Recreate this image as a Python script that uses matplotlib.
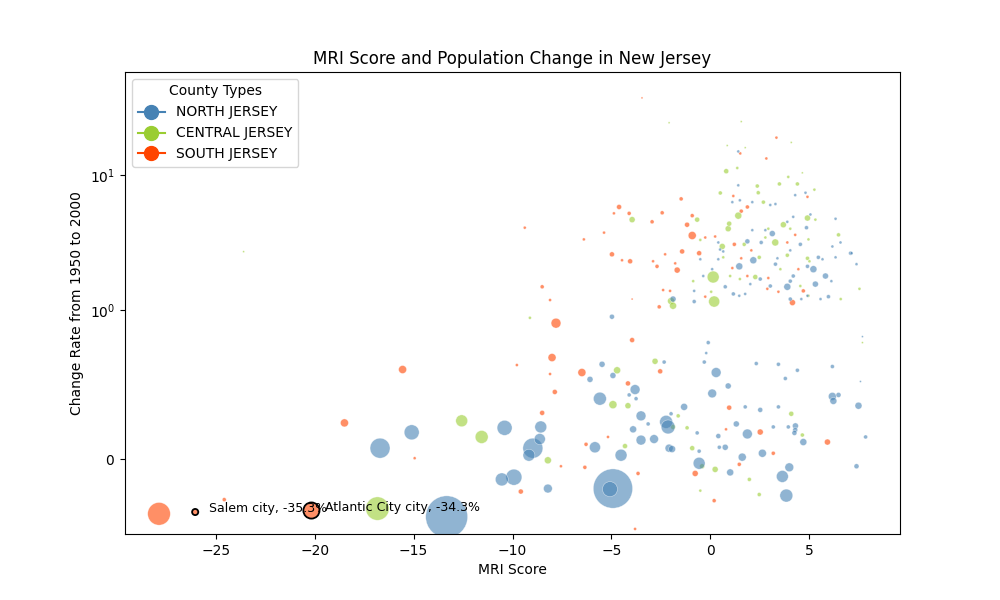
import numpy as np
import matplotlib.pyplot as plt
from matplotlib.lines import Line2D

# MRI score, change rate 1950->2000 (fraction), population 2000 (thousands)
north_mri = [-13.33, -4.92, -5.07, -16.7, -15.1, -10.4, -9.93, -10.54, -8.57, -8.97,
             -9.17, -8.62, -8.21, -6.08, -5.58, -5.47, -4.97, -4.92, -3.8, -3.75,
             -4.1, -3.5, -3.9, -3.5, -2.84, -3.14, -4.51, -5.83, -2.23, -2.13,
             -2.08, -1.93, -2.33, -1.32, -1.98, -0.66, -0.56, -0.56, 0.41, 0.76,
             0.46, 1.01, 0.1, 0.3, -0.1, -0.3, -0.2, 0.91, 1.32, 1.88,
             1.62, 1.77, 2.53, 2.33, 2.64, 3.19, 3.65, 4.0, 3.85, 4.31,
             4.3, 4.26, 4.71, 3.95, 3.45, 3.8, 3.45, 4.41, 6.18, 6.18,
             6.23, 6.49, 7.5, 7.86, 7.4, 7.6, 7.7, 1.47, 2.18, 1.88,
             3.14, 5.22, 5.83, 5.32, 3.9, 7.1, 5.98, 2.53, 1.42, -0.81,
             -1.88, 1.5, 3.04, 4.3, 5.07, 2.79, 4.56, -0.5, 0.5, 3.3,
             4.05, 1.77, 0.1, 7.4, 6.34, 5.58,
             1.42, 1.12, 2.13, 3.3, 4.82, 4.2, 4.87, 3.9, 2.58, 0.41,
             0.66, 2.13, 3.4, 4.05, 4.2, 4.05, 4.92, 5.68, 6.18, 6.59,
             7.15, 6.34, 4.92, 3.04, 0.76, 1.17, 1.47, 2.03, 0.41, -0.35,
             -0.81, 4.61, 6.13, 5.47]
north_chg = [-0.385, -0.196, -0.2, 0.074, 0.18, 0.21, -0.12, -0.135, 0.216, 0.074,
             0.027, 0.135, -0.196, 0.534, 0.405, 0.635, 0.953, 0.56, 0.466, 0.405,
             0.43, 0.29, 0.2, 0.128, 0.135, 0.236, 0.027, 0.08, 0.25, 0.216,
             0.074, 0.068, 0.65, 0.35, 0.304, 0.176, 0.054, -0.027, 0.155, 0.08,
             0.08, -0.088, 0.44, 0.58, 0.78, 0.65, 0.71, 0.49, 0.236, 0.169,
             0.014, 0.35, 0.33, 0.64, 0.04, 0.216, -0.115, -0.054, -0.243, 0.223,
             0.196, 0.176, 0.115, 0.216, 0.35, 0.54, 0.635, 0.595, 0.62, 0.42,
             0.39, 0.43, 0.358, 0.149, -0.047, 0.52, 0.82, 2.1, 2.33, 3.22,
             3.68, 2.0, 1.78, 1.55, 1.48, 2.63, 1.25, 1.69, 15.0, 1.15,
             1.2, 6.5, 6.0, 7.1, 5.1, 3.9, 3.06, 2.37, 2.8, 2.18,
             1.2, 1.31, 2.0, 2.18, 2.45, 1.2,
             8.4, 6.3, 6.3, 6.1, 7.4, 4.9, 4.07, 4.5, 3.16, 3.16,
             2.71, 3.9, 2.41, 2.76, 1.78, 1.63, 2.1, 2.37, 2.95, 3.16,
             2.63, 4.74, 1.27, 1.5, 1.48, 1.31, 1.27, 1.55, 2.37, 1.78,
             1.38, 1.2, 1.63, 2.45]
north_pop = [273, 240, 35, 62, 35, 35, 40, 26, 22, 62,
             22, 19, 12, 5.6, 26, 5.6, 3.9, 5.6, 15, 2.5,
             2.5, 15, 7.6, 15, 12, 2.5, 22, 19, 26, 30,
             10, 7.6, 2.5, 7.6, 2.5, 2.5, 2.5, 22, 3.9, 5.6,
             2.5, 7.6, 12, 15, 2.5, 2.5, 1.4, 5.6, 5.6, 15,
             10, 2.5, 3.9, 2.5, 10, 2.5, 22, 12, 26, 5.6,
             3.9, 3.9, 7.6, 2.5, 2.5, 2.5, 2.5, 2.5, 2.5, 10,
             7.6, 3.9, 7.6, 2.5, 3.9, 0.6, 0.6, 7.6, 7.6, 3.9,
             5.6, 7.6, 5.6, 5.6, 7.6, 2.5, 2.5, 2.5, 1.4, 2.5,
             5.6, 1.4, 1.4, 1.4, 1.4, 1.4, 2.5, 1.4, 1.4, 2.5,
             2.5, 1.4, 1.4, 1.4, 1.4, 1.4,
             1.4, 1.4, 1.4, 1.4, 1.4, 1.4, 2.5, 1.4, 2.5, 1.4,
             1.4, 1.4, 1.4, 1.4, 2.5, 2.5, 2.5, 1.4, 1.4, 1.4,
             1.4, 1.4, 1.4, 2.5, 2.5, 2.5, 1.4, 1.4, 1.4, 1.4,
             1.4, 1.4, 1.4, 2.5]

central_mri = [-16.83, -12.57, -11.56, -8.21, -9.12, -4.71, -4.92, -4.16, -4.31, -2.79,
               -1.62, -1.17, -0.91, -1.88, 0.25, 1.98, 2.48, 4.1, 4.66, -0.41,
               0.2, 0.15, -3.95, -1.98, -1.88, 0.61, 0.81, 1.42, 0.91, 0.96,
               2.48, 3.29, 2.38, 2.43, 3.5, 4.41, 2.69, 3.7, 4.92, 3.9,
               4.92, 6.49, 7.55, 0.51, 1.37, 0.86, 4.1, -2.08, 1.57, -0.66,
               7.7, -23.6, -0.5, 2.28, 6.6, 1.5, -0.5,
               3.95, 5.27, 5.32, 4.05, 4.97, 5.02, 2.94, 2.79, 1.72, 0.66,
               1.01, 3.55, 4.56, 4.97, 1.77, 4.66, 0.05, -0.86]
central_chg = [-0.33, 0.257, 0.149, -0.007, 0.946, 0.595, 0.365, 0.358, 0.088, 0.655,
               0.29, 0.21, 0.074, 0.216, -0.068, -0.135, -0.236, 0.304, 0.162, -0.047,
               1.15, 1.75, 4.67, 1.16, 1.07, 2.95, 10.7, 5.0, 4.0, 4.36,
               2.45, 3.16, 8.3, 7.4, 8.6, 8.6, 6.3, 4.28, 4.8, 2.54,
               2.41, 3.6, 1.43, 7.37, 11.3, 16.6, 17.5, 24.5, 25.0, 4.67,
               0.78, 2.7, 3.3, 1.75, 1.2, 1.69, -0.21,
               9.7, 7.8, 4.67, 4.0, 3.33, 2.29, 4.0, 3.44, 3.06, 2.45,
               1.78, 2.0, 1.5, 1.27, 16.0, 10.4, 1.36, 1.63]
central_pop = [85, 22, 26, 7.6, 1.4, 7.6, 10, 5.6, 3.9, 5.6,
               2.5, 2.5, 3.9, 3.9, 5.6, 2.5, 2.5, 3.9, 2.5, 3.9,
               19, 22, 5.6, 7.6, 7.6, 5.6, 3.9, 7.6, 5.6, 3.9,
               2.5, 7.6, 2.5, 2.5, 2.5, 2.5, 2.5, 5.6, 5.6, 2.5,
               2.5, 2.5, 1.4, 2.5, 1.4, 0.6, 0.6, 0.6, 0.6, 3.9,
               0.6, 0.6, 1.4, 3.9, 1.4, 1.4, 1.4,
               1.4, 1.4, 1.4, 1.4, 1.4, 1.4, 1.4, 1.4, 2.5, 1.4,
               1.4, 1.4, 1.4, 1.4, 0.6, 0.6, 1.4, 1.4]

south_mri = [-27.88, -26.05, -20.17, -24.58, -18.5, -14.95, -15.56, -9.58, -7.8, -8.0,
             -7.86, -8.5, -8.1, -9.78, -8.5, -8.1, -9.38, -6.49, -6.28, -6.34,
             -7.55, -5.17, -4.16, -3.95, -3.65, -3.8, -2.53, -0.76, 0.2, 0.96,
             1.47, 2.53, 3.19, 4.16, 5.93, -3.45, -4.61, -4.87, -4.1, -6.39,
             -5.37, -4.97, -4.46, -4.05, -2.94, -2.43, -1.47, -1.17, -0.91, -0.91,
             -1.42, -0.56, -2.89, -2.69, -2.28, -1.77, -1.67, -3.95, -2.38, -2.03,
             -2.58, 1.88, 2.84, 3.35, 1.52, 2.89, 1.57, -0.25, 4.3, 0.8,
             1.57, 1.17, 0.25, 1.22, 2.08, 3.9, 4.92, 4.46, 4.71, 2.94,
             1.88, 1.12, -0.25, 3.45]
south_chg = [-0.365, -0.353, -0.343, -0.27, 0.243, 0.007, 0.6, -0.216, 0.91, 0.68,
             0.45, 0.31, 0.57, 0.63, 1.48, 1.18, 4.07, 0.58, 0.1, -0.054,
             -0.047, 0.149, 0.507, 0.797, -0.095, -0.466, 0.588, -0.095, -0.277, 0.345,
             -0.034, 0.182, 0.04, 1.13, 0.115, 37.5, 5.8, 5.2, 5.2, 3.33,
             3.74, 2.58, 2.33, 2.29, 4.5, 5.25, 6.66, 4.28, 5.0, 3.56,
             2.71, 2.63, 2.29, 2.1, 2.58, 2.21, 1.97, 1.2, 1.4, 1.38,
             1.05, 5.8, 13.3, 19.0, 14.5, 1.43, 2.41, 3.44, 3.6, 0.2,
             5.4, 7.0, 3.5, 3.06, 2.76, 3.16, 6.9, 2.0, 1.38, 1.72,
             1.78, 2.04, 1.25, 1.36]
south_pop = [80, 5.9, 40.5, 2.5, 10, 1.4, 10, 3.9, 15, 10,
             3.9, 3.9, 1.4, 1.4, 2.5, 1.4, 1.4, 10, 2.5, 2.5,
             1.4, 1.4, 3.9, 3.9, 2.5, 1.4, 3.9, 5.6, 2.5, 3.9,
             2.5, 5.6, 2.5, 5.6, 5.6, 0.6, 3.9, 1.4, 2.5, 1.4,
             1.4, 3.9, 1.4, 3.9, 2.5, 2.5, 2.5, 3.9, 2.5, 10,
             3.9, 3.9, 1.4, 2.5, 1.4, 1.4, 5.6, 0.6, 1.4, 1.4,
             2.5, 2.5, 1.4, 1.4, 1.4, 1.4, 1.4, 1.4, 1.4, 1.4,
             2.5, 1.4, 1.4, 2.5, 1.4, 1.4, 1.4, 1.4, 2.5, 1.4,
             1.4, 1.4, 1.4, 1.4]

# labelled places
label_names = ['Salem city', 'Atlantic City city']
label_mri = [-26.05, -20.17]
label_chg = [-0.353, -0.343]
label_pop = [5.9, 40.5]

regions = ['NORTH JERSEY', 'CENTRAL JERSEY', 'SOUTH JERSEY']
colors = {'NORTH JERSEY': 'steelblue', 'CENTRAL JERSEY': 'yellowgreen',
          'SOUTH JERSEY': 'orangered'}
data = {'NORTH JERSEY': (north_mri, north_chg, north_pop),
        'CENTRAL JERSEY': (central_mri, central_chg, central_pop),
        'SOUTH JERSEY': (south_mri, south_chg, south_pop)}

fig, ax = plt.subplots(figsize=(10, 6), dpi=100)

for r in ['SOUTH JERSEY', 'CENTRAL JERSEY', 'NORTH JERSEY']:
    x, y, p = data[r]
    ax.scatter(x, y, s=np.array(p) * 1000 / 300, color=colors[r], alpha=0.6,
               edgecolors='white', linewidths=0.4)

ax.scatter(label_mri, label_chg, s=np.array(label_pop) * 1000 / 300,
           facecolors='none', edgecolors='black', linewidths=1.3)
for name, x, y in zip(label_names, label_mri, label_chg):
    ax.annotate(f'{name}, {y*100:.1f}%', (x, y), xytext=(10, 0),
                textcoords='offset points', fontsize=9)

ax.set_yscale('symlog', linthresh=1)
ax.set_xlim(-29.6, 9.6)
ax.set_ylim(-0.5, 58.4)

ax.set_title('MRI Score and Population Change in New Jersey')
ax.set_xlabel('MRI Score')
ax.set_ylabel('Change Rate from 1950 to 2000')

handles = [Line2D([0], [0], marker='o', color=colors[r], markersize=10, label=r)
           for r in regions]
ax.legend(handles=handles, title='County Types', loc='upper left')

plt.savefig('out.png')
